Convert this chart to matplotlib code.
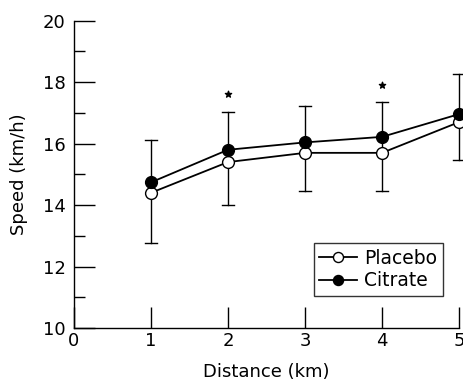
import matplotlib.pyplot as plt
from matplotlib.ticker import MultipleLocator

plt.rcParams["font.family"] = ["DejaVu Sans"]

# Values
distance = [1, 2, 3, 4, 5]
placebo = [14.40, 15.40, 15.70, 15.70, 16.70]
citrate = [14.74, 15.80, 16.04, 16.22, 16.96]
err_upper = [16.13, 17.02, 17.21, 17.34, 18.25]
err_lower = [12.78, 14.00, 14.46, 14.46, 15.47]
star_x = [2, 4]
star_y = [17.60, 17.90]

fig = plt.figure(figsize=(4.63, 3.80), dpi=100)
ax = fig.add_axes([0.1598, 0.1368, 0.8316, 0.8087])

cap = 0.08
for x, lo, hi in zip(distance, err_lower, err_upper):
    ax.plot([x, x], [lo, hi], color="black", lw=1.0, zorder=1, clip_on=False)
    ax.plot([x - cap, x + cap], [lo, lo], color="black", lw=1.0, zorder=1, clip_on=False)
    ax.plot([x - cap, x + cap], [hi, hi], color="black", lw=1.0, zorder=1, clip_on=False)

ax.plot(distance, placebo, color="black", lw=1.3, marker="o", ms=8.5,
        mfc="white", mec="black", mew=1.0, label="Placebo", zorder=3, clip_on=False)
ax.plot(distance, citrate, color="black", lw=1.3, marker="o", ms=8.5,
        mfc="black", mec="black", mew=1.0, label="Citrate", zorder=4, clip_on=False)

ax.scatter(star_x, star_y, marker="*", s=22, color="black", zorder=5)

ax.set_xlim(0, 5)
ax.set_ylim(10, 20)
ax.set_xticks([0, 1, 2, 3, 4, 5])
ax.set_yticks([10, 12, 14, 16, 18, 20])
ax.yaxis.set_minor_locator(MultipleLocator(1))
ax.tick_params(axis="both", which="major", direction="in", length=15,
               width=1.0, labelsize=13)
ax.tick_params(axis="y", which="minor", direction="in", length=8, width=1.0)
ax.tick_params(axis="x", pad=3)
ax.tick_params(axis="y", pad=6)
for side in ("top", "right"):
    ax.spines[side].set_visible(False)
for side in ("left", "bottom"):
    ax.spines[side].set_linewidth(1.0)

ax.set_xlabel("Distance (km)", fontsize=13, labelpad=9)
ax.set_ylabel("Speed (km/h)", fontsize=13, labelpad=11)

leg = ax.legend(loc="lower right", bbox_to_anchor=(0.958, 0.104), fontsize=13.5,
                frameon=True, fancybox=False, edgecolor="black", borderaxespad=0,
                handlelength=2.0, handletextpad=0.4, borderpad=0.3,
                labelspacing=0.2, markerscale=0.85)
leg.get_frame().set_linewidth(1.0)

fig.savefig("out.png", dpi=100)
